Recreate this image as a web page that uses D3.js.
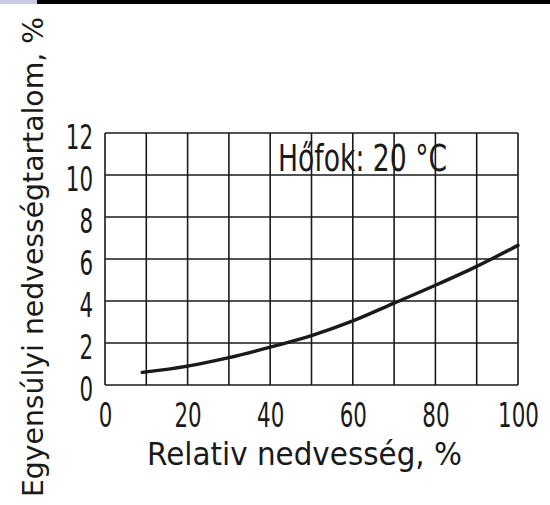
<!DOCTYPE html>
<html>
<head>
<meta charset="utf-8">
<script src="https://cdn.jsdelivr.net/npm/d3@7"></script>
<style>
  html, body { margin: 0; padding: 0; background: #fff; }
  svg { display: block; }
  text { font-family: "DejaVu Sans", sans-serif; fill: #1a1a1a; }
</style>
</head>
<body>
<svg id="chart" width="550" height="505"></svg>
<script>
// Equilibrium moisture content of wood vs. relative humidity at 20 °C
const humidity = [9, 20, 30, 40, 50, 60, 70, 80, 90, 100];
const moisture = [0.6, 0.9, 1.3, 1.8, 2.35, 3.05, 3.9, 4.75, 5.65, 6.65];
const xTicks = [0, 20, 40, 60, 80, 100];
const yTicks = [0, 2, 4, 6, 8, 10, 12];
const xGrid = [0, 10, 20, 30, 40, 50, 60, 70, 80, 90, 100];
const xTitle = "Relativ nedvesség, %";
const yTitle = "Egyensúlyi nedvességtartalom, %";
const note = "Hőfok: 20 °C";

const svg = d3.select("#chart");
const plot = { left: 105, right: 518, top: 133, bottom: 385 };
const ink = "#1a1a1a";
const squeeze = 0.63; // horizontal scale for the narrow drafting-style numerals

// top strip
svg.append("rect").attr("x", 0).attr("y", 0).attr("width", 37).attr("height", 4).attr("fill", "#c9c9e6");
svg.append("rect").attr("x", 37).attr("y", 0).attr("width", 513).attr("height", 4).attr("fill", "#000");

const x = d3.scaleLinear().domain([0, 100]).range([plot.left, plot.right]);
const y = d3.scaleLinear().domain([0, 12]).range([plot.bottom, plot.top]);

// grid
const grid = svg.append("g").attr("stroke", ink).attr("stroke-width", 1.6).attr("fill", "none");
grid.selectAll("line.v").data(xGrid).join("line")
  .attr("class", "v")
  .attr("x1", d => x(d)).attr("x2", d => x(d))
  .attr("y1", plot.top).attr("y2", plot.bottom);
grid.selectAll("line.h").data(yTicks).join("line")
  .attr("class", "h")
  .attr("x1", plot.left).attr("x2", plot.right)
  .attr("y1", d => y(d)).attr("y2", d => y(d));

// axes (labels only; the grid supplies the frame)
const xAxis = svg.append("g")
  .attr("transform", `translate(0,${plot.bottom})`)
  .call(d3.axisBottom(x).tickValues(xTicks).tickSize(0).tickPadding(42));
xAxis.select(".domain").remove();
xAxis.selectAll("text")
  .attr("font-size", 34).attr("dy", 0).attr("fill", ink)
  .attr("transform", `scale(${squeeze},1)`);

const yAxis = svg.append("g")
  .attr("transform", `translate(${plot.left},0)`)
  .call(d3.axisLeft(y).tickValues(yTicks).tickSize(0).tickPadding(12));
yAxis.select(".domain").remove();
yAxis.selectAll("text")
  .attr("font-size", 34).attr("dy", 15).attr("fill", ink)
  .attr("x", -12 / squeeze)
  .attr("transform", `scale(${squeeze},1)`);

// curve
const line = d3.line()
  .x((d, i) => x(humidity[i]))
  .y(d => y(d))
  .curve(d3.curveMonotoneX);
svg.append("path")
  .datum(moisture)
  .attr("d", line)
  .attr("fill", "none")
  .attr("stroke", ink)
  .attr("stroke-width", 3.4)
  .attr("stroke-linecap", "round");

// temperature note
svg.append("text")
  .attr("transform", "translate(278,171) scale(0.72,1)")
  .attr("font-size", 37)
  .text(note);

// axis titles
svg.append("text")
  .attr("x", 147).attr("y", 465)
  .attr("font-size", 32)
  .attr("textLength", 315).attr("lengthAdjust", "spacingAndGlyphs")
  .text(xTitle);

svg.append("text")
  .attr("transform", "translate(43,497) rotate(-90)")
  .attr("font-size", 28)
  .attr("textLength", 480).attr("lengthAdjust", "spacingAndGlyphs")
  .text(yTitle);
</script>
</body>
</html>
